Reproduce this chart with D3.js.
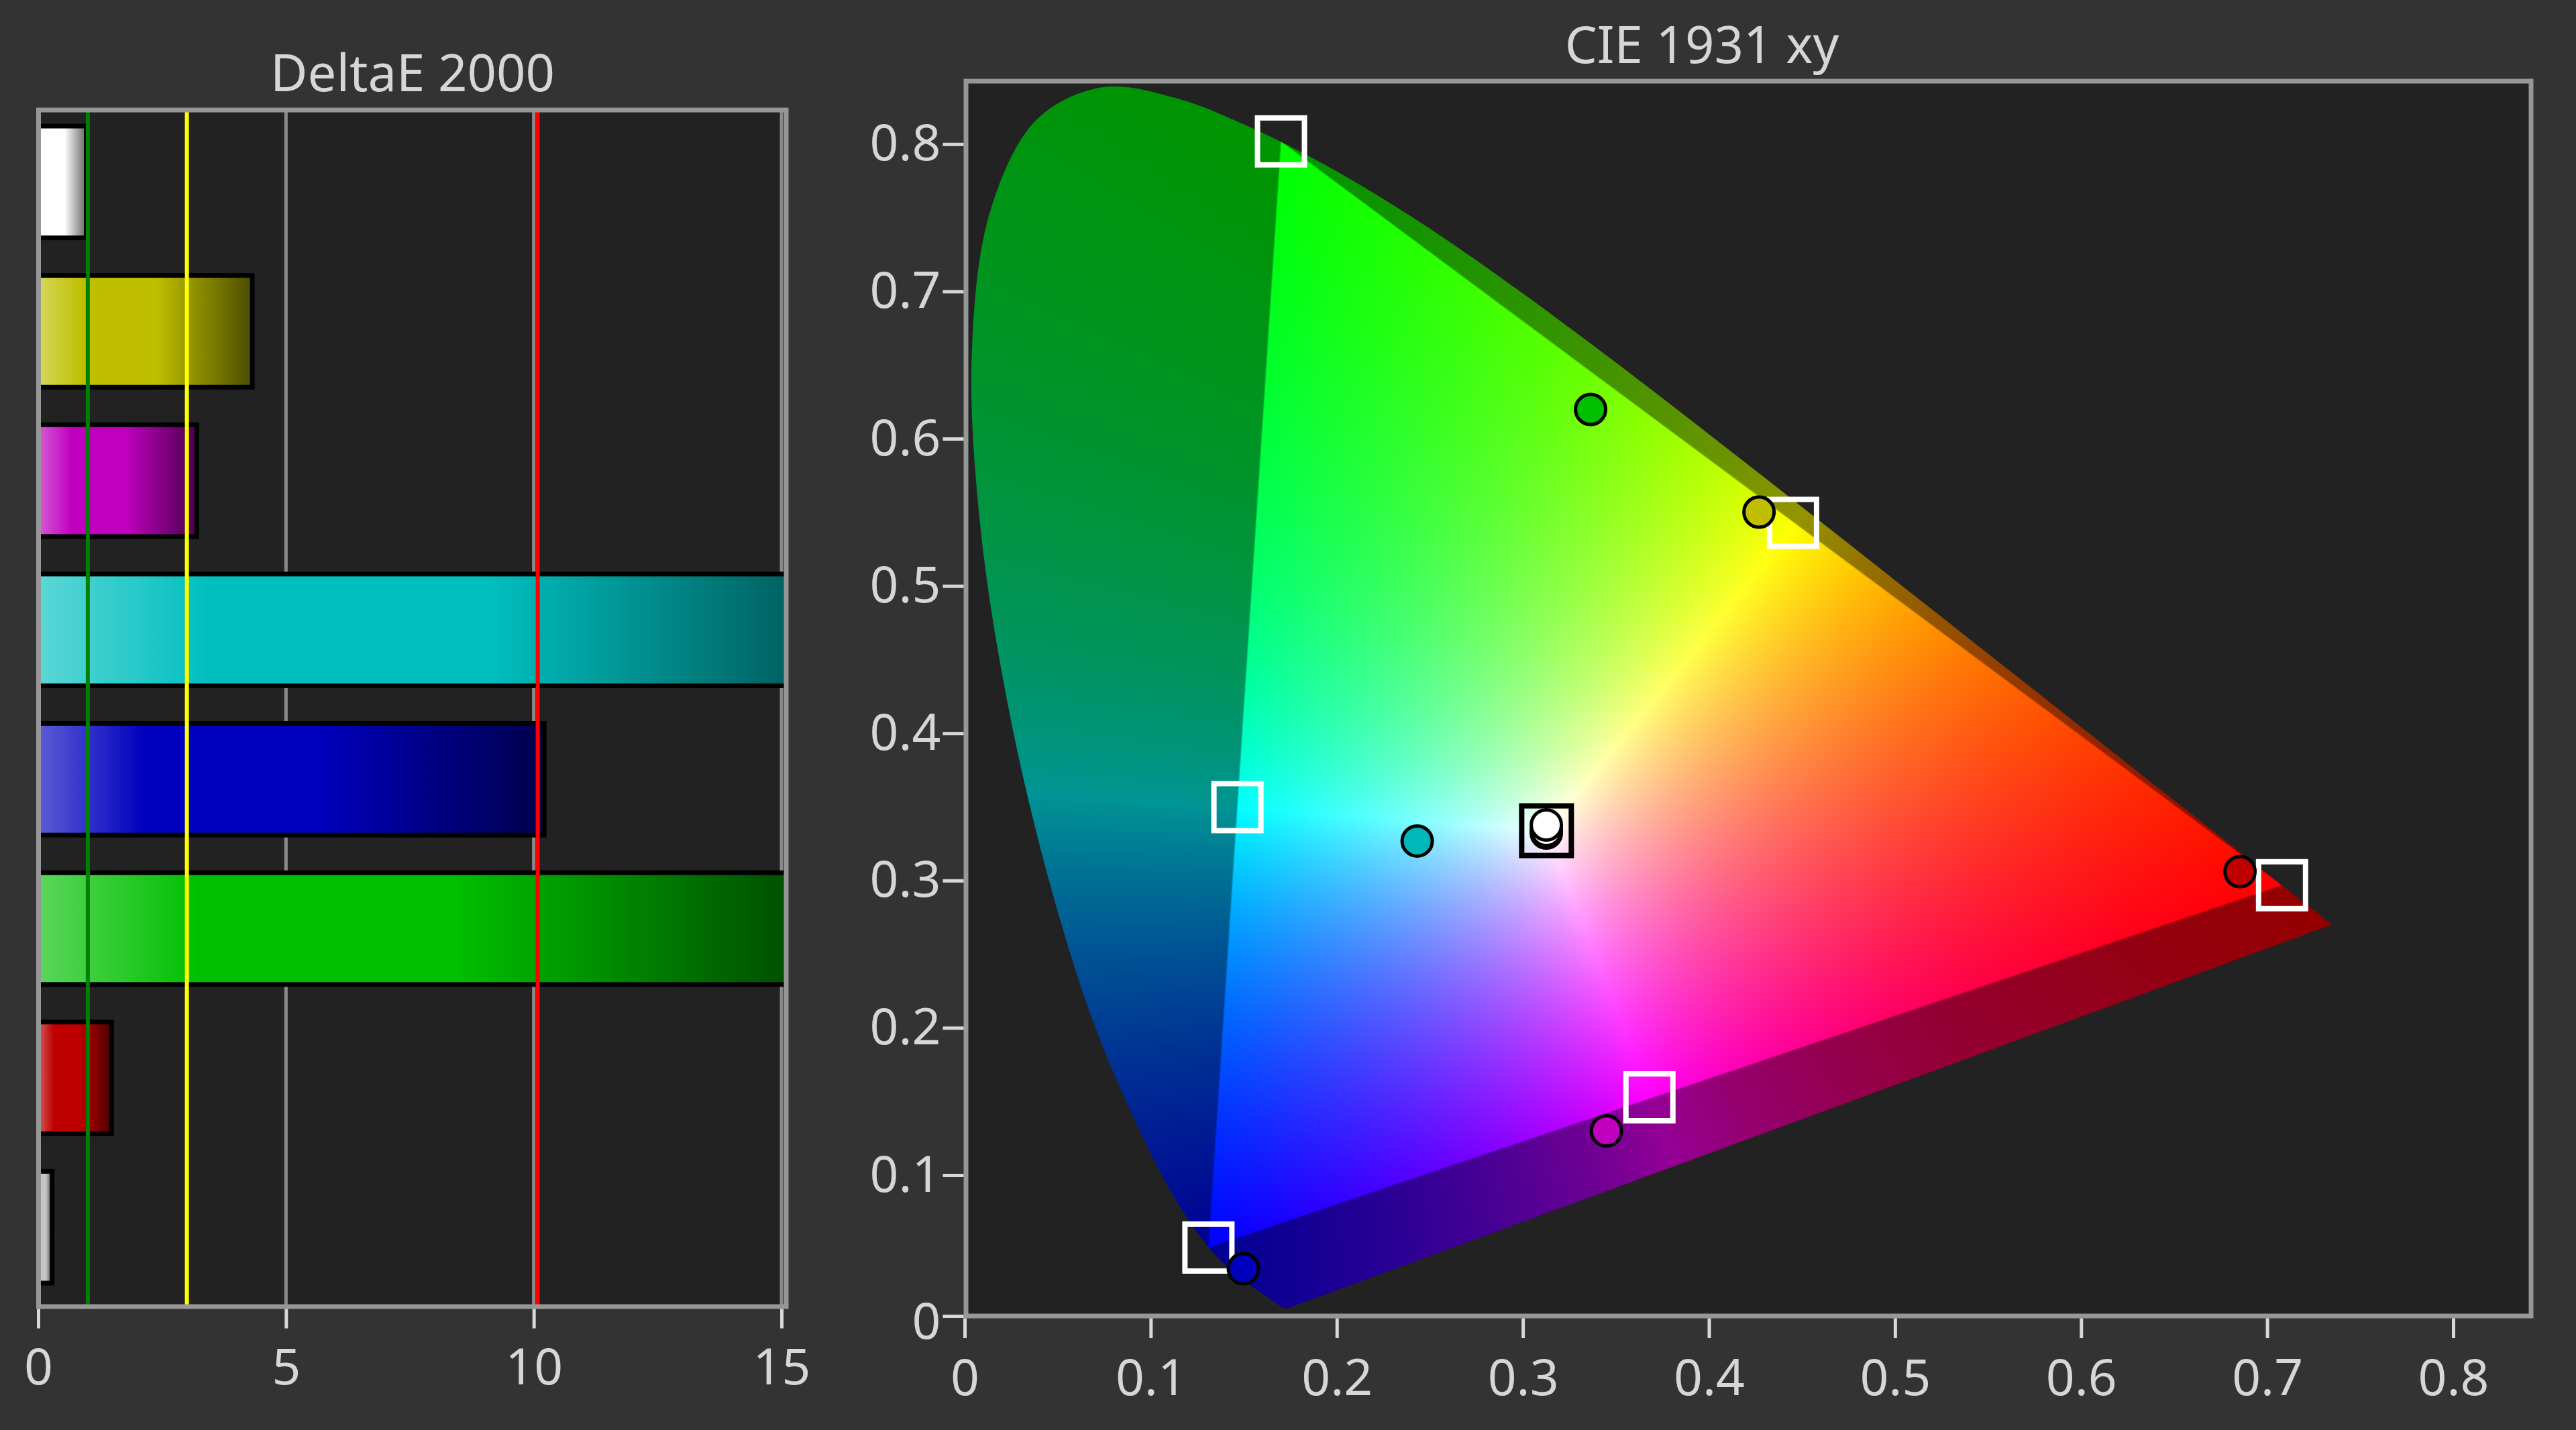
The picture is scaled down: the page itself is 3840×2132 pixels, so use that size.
<!DOCTYPE html>
<html><head><meta charset="utf-8">
<script src="https://cdn.jsdelivr.net/npm/d3@7"></script>
<style>
html,body{margin:0;padding:0;background:#333333;overflow:hidden;}
svg{display:block;}
</style></head><body>
<script>
// ---------------- DATA ----------------
// DeltaE 2000 bar chart
const deltaCategories = ["White", "Yellow", "Magenta", "Cyan", "Blue", "Green", "Red", "Gray"];
const deltaValues = [0.97, 4.32, 3.2, 16.5, 10.21, 15.3, 1.48, 0.28];
const deltaBaseColors = ["#ffffff", "#bfbf00", "#bf00bf", "#00bfbf", "#0000bf", "#00bf00", "#bf0000", "#c4c4c4"];
const deltaTicks = [0, 5, 10, 15];
const thresholdValues = [1, 3, 10.08];
const thresholdColors = ["#008000", "#ffff00", "#ff0000"];

// CIE 1931 xy: target (reference) points
const targetNames = ["Green", "Yellow", "Cyan", "Magenta", "Red", "Blue"];
const targetX = [0.170, 0.4452, 0.1466, 0.368, 0.708, 0.131];
const targetY = [0.797, 0.538, 0.345, 0.148, 0.292, 0.046];
const whiteTargetX = [0.3127];
const whiteTargetY = [0.3290];

// CIE 1931 xy: measured points
const measuredNames = ["Green", "Yellow", "Cyan", "Magenta", "Red", "Blue", "White 3", "White 2", "White 1"];
const measuredX = [0.3364, 0.4269, 0.2432, 0.3449, 0.6854, 0.1498, 0.3126, 0.3126, 0.3126];
const measuredY = [0.615, 0.5453, 0.322, 0.1252, 0.3012, 0.0316, 0.3274, 0.3292, 0.3329];
const measuredColors = ["#00bf00", "#bfbf00", "#00b8b8", "#bf00bf", "#bf0000", "#0000bf", "#ffffff", "#ffffff", "#ffffff"];

// Gamut triangle used for the bright region (Rec.2020 primaries R, G, B)
const gamutX = [0.708, 0.170, 0.131];
const gamutY = [0.292, 0.797, 0.046];

// CIE 1931 2° spectral locus, 380–700 nm, 5 nm steps
const locusX = [0.1741,0.1740,0.1738,0.1736,0.1733,0.1730,0.1726,0.1721,0.1714,0.1703,0.1689,0.1669,0.1644,0.1611,0.1566,0.1510,0.1440,0.1355,0.1241,0.1096,0.0913,0.0687,0.0454,0.0235,0.0082,0.0039,0.0139,0.0389,0.0743,0.1142,0.1547,0.1929,0.2296,0.2658,0.3016,0.3373,0.3731,0.4087,0.4441,0.4788,0.5125,0.5448,0.5752,0.6029,0.6270,0.6482,0.6658,0.6801,0.6915,0.7006,0.7079,0.7140,0.7190,0.7230,0.7260,0.7283,0.7300,0.7311,0.7320,0.7327,0.7334,0.7340,0.7344,0.7346,0.7347];
const locusY = [0.0050,0.0050,0.0049,0.0049,0.0048,0.0048,0.0048,0.0048,0.0051,0.0058,0.0069,0.0086,0.0109,0.0138,0.0177,0.0227,0.0297,0.0399,0.0578,0.0868,0.1327,0.2007,0.2950,0.4127,0.5384,0.6548,0.7502,0.8120,0.8338,0.8262,0.8059,0.7816,0.7543,0.7243,0.6923,0.6589,0.6245,0.5896,0.5547,0.5202,0.4866,0.4544,0.4242,0.3965,0.3725,0.3514,0.3340,0.3197,0.3083,0.2993,0.2920,0.2859,0.2809,0.2770,0.2740,0.2717,0.2700,0.2689,0.2680,0.2673,0.2666,0.2660,0.2656,0.2654,0.2653];

const cieTicks = [0, 0.1, 0.2, 0.3, 0.4, 0.5, 0.6, 0.7, 0.8];

// ---------------- SETUP ----------------
const W = 3840, H = 2132;
const FONT = "'Noto Sans', 'Open Sans', sans-serif";
const TEXT = "#d6d6d6";
const FRAME = "#979797";

const svg = d3.select("body").append("svg").attr("width", W).attr("height", H);
svg.append("rect").attr("width", W).attr("height", H).attr("fill", "#333333");
const defs = svg.append("defs");

// ---------------- DeltaE 2000 ----------------
const L = {left: 57.5, right: 1172, top: 164, bottom: 1948};
const xs = d3.scaleLinear().domain([0, 15]).range([57, 1165]);
const yb = d3.scaleBand().domain(deltaCategories).range([160, 1941]).paddingInner(0.22).paddingOuter(0.11);

svg.append("rect").attr("x", L.left).attr("y", L.top)
  .attr("width", L.right - L.left).attr("height", L.bottom - L.top).attr("fill", "#222222");

// grid lines
svg.append("g").selectAll("line").data(deltaTicks.filter(d => d > 0)).join("line")
  .attr("x1", d => xs(d)).attr("x2", d => xs(d)).attr("y1", L.top).attr("y2", L.bottom)
  .attr("stroke", "#8a8a8a").attr("stroke-width", 5);

// gradients
deltaBaseColors.forEach((c, i) => {
  const g = defs.append("linearGradient").attr("id", "bg" + i).attr("x1", 0).attr("x2", 1).attr("y1", 0).attr("y2", 0);
  const light = d3.interpolateRgb(c, "#ffffff")(0.36);
  const dark = d3.interpolateRgb(c, "#000000")(0.6);
  g.append("stop").attr("offset", 0).attr("stop-color", light);
  g.append("stop").attr("offset", 0.21).attr("stop-color", c);
  g.append("stop").attr("offset", 0.55).attr("stop-color", c);
  g.append("stop").attr("offset", 1).attr("stop-color", dark);
});
defs.append("clipPath").attr("id", "barClip").append("rect")
  .attr("x", L.left).attr("y", L.top).attr("width", L.right - L.left).attr("height", L.bottom - L.top);

svg.append("g").attr("clip-path", "url(#barClip)").selectAll("rect")
  .data(deltaCategories).join("rect")
  .attr("x", xs(0))
  .attr("y", d => yb(d) + 3.5)
  .attr("width", (d, i) => xs(deltaValues[i]) - xs(0))
  .attr("height", yb.bandwidth() - 7)
  .attr("fill", (d, i) => "url(#bg" + i + ")")
  .attr("stroke", "#000").attr("stroke-width", 7);

// threshold lines
svg.append("g").selectAll("line").data(thresholdValues).join("line")
  .attr("x1", d => xs(d)).attr("x2", d => xs(d)).attr("y1", L.top).attr("y2", L.bottom)
  .attr("stroke", (d, i) => thresholdColors[i]).attr("stroke-width", 6);

// frame
svg.append("rect").attr("x", L.left).attr("y", L.top)
  .attr("width", L.right - L.left).attr("height", L.bottom - L.top)
  .attr("fill", "none").attr("stroke", FRAME).attr("stroke-width", 7);

// axis
const ax1 = svg.append("g").attr("transform", `translate(0,${L.bottom + 3.5})`)
  .call(d3.axisBottom(xs).tickValues(deltaTicks).tickSize(29).tickPadding(30).tickFormat(d3.format("d")));
ax1.select(".domain").remove();
ax1.selectAll(".tick line").attr("stroke", "#d8d8d8").attr("stroke-width", 5);
ax1.selectAll(".tick text").attr("fill", TEXT).attr("font-size", 75).attr("font-family", FONT);

svg.append("text").attr("x", 615).attr("y", 136).attr("text-anchor", "middle")
  .attr("fill", TEXT).attr("font-size", 76).attr("font-family", FONT).text("DeltaE 2000");

// ---------------- CIE 1931 xy ----------------
const C = {left: 1440, right: 3773, top: 121, bottom: 1962};
const xc = d3.scaleLinear().domain([0, 0.8]).range([1438, 3657]);
const yc = d3.scaleLinear().domain([0, 0.8]).range([1961, 204.2]);

svg.append("rect").attr("x", C.left).attr("y", C.top)
  .attr("width", C.right - C.left).attr("height", C.bottom - C.top).attr("fill", "#222222");

// chromaticity fill rendered in a canvas through the scales
(function () {
  const cw = Math.round(C.right - C.left), ch = Math.round(C.bottom - C.top);
  const canvas = document.createElement("canvas");
  canvas.width = cw; canvas.height = ch;
  const ctx = canvas.getContext("2d");
  const img = ctx.createImageData(cw, ch);
  const data = img.data;
  const P = gamutX.map((gx, i) => [xc(gx) - C.left, yc(gamutY[i]) - C.top]);
  const cx = (P[0][0] + P[1][0] + P[2][0]) / 3, cy = (P[0][1] + P[1][1] + P[2][1]) / 3;
  const edges = [];
  for (let i = 0; i < 3; i++) {
    const a = P[i], b = P[(i + 1) % 3];
    let nx = -(b[1] - a[1]), ny = b[0] - a[0];
    const len = Math.hypot(nx, ny); nx /= len; ny /= len;
    let c0 = -(nx * a[0] + ny * a[1]);
    if (nx * cx + ny * cy + c0 < 0) { nx = -nx; ny = -ny; c0 = -c0; }
    edges.push([nx, ny, c0]);
  }
  for (let j = 0; j < ch; j++) {
    const py = j + 0.5;
    const yv = yc.invert(py + C.top);
    if (yv <= 0.0005) continue;
    for (let i = 0; i < cw; i++) {
      const px = i + 0.5;
      const xv = xc.invert(px + C.left);
      const X = xv / yv, Z = (1 - xv - yv) / yv;
      let r = 1.7166512 * X - 0.3556708 - 0.2533663 * Z;
      let g = -0.6666844 * X + 1.6164812 + 0.0157685 * Z;
      let b = 0.0176399 * X - 0.0427706 + 0.9421031 * Z;
      if (r < 0) r = 0; if (g < 0) g = 0; if (b < 0) b = 0;
      const m = Math.max(r, g, b) || 1;
      let d = Infinity;
      for (let k = 0; k < 3; k++) {
        const e = edges[k];
        const dd = e[0] * px + e[1] * py + e[2];
        if (dd < d) d = dd;
      }
      let t = d / 2.5 + 0.5; t = t < 0 ? 0 : (t > 1 ? 1 : t);
      const f = (0.58 + 0.42 * t) * 255 / m;
      const o = (j * cw + i) * 4;
      data[o] = r * f; data[o + 1] = g * f; data[o + 2] = b * f; data[o + 3] = 255;
    }
  }
  ctx.putImageData(img, 0, 0);
  ctx.globalCompositeOperation = "destination-in";
  const pts = locusX.map((lx, i) => [lx, locusY[i]]);
  const line = d3.line().x(d => xc(d[0]) - C.left).y(d => yc(d[1]) - C.top)
    .curve(d3.curveCatmullRom.alpha(0.5)).context(ctx);
  ctx.beginPath(); line(pts); ctx.closePath(); ctx.fillStyle = "#000"; ctx.fill();
  svg.append("image").attr("x", C.left).attr("y", C.top).attr("width", cw).attr("height", ch)
    .attr("href", canvas.toDataURL());
})();

// frame
svg.append("rect").attr("x", C.left).attr("y", C.top)
  .attr("width", C.right - C.left).attr("height", C.bottom - C.top)
  .attr("fill", "none").attr("stroke", FRAME).attr("stroke-width", 7);

// target squares
const SQ = 70;
svg.append("g").selectAll("rect").data(targetNames).join("rect")
  .attr("x", (d, i) => xc(targetX[i]) - SQ / 2).attr("y", (d, i) => yc(targetY[i]) - SQ / 2)
  .attr("width", SQ).attr("height", SQ)
  .attr("fill", "none").attr("stroke", "#ffffff").attr("stroke-width", 8);
svg.append("g").selectAll("rect").data(whiteTargetX).join("rect")
  .attr("x", (d, i) => xc(d) - 37).attr("y", (d, i) => yc(whiteTargetY[i]) - 37)
  .attr("width", 74).attr("height", 74)
  .attr("fill", "none").attr("stroke", "#000000").attr("stroke-width", 8);

// measured circles
svg.append("g").selectAll("circle").data(measuredNames).join("circle")
  .attr("cx", (d, i) => xc(measuredX[i])).attr("cy", (d, i) => yc(measuredY[i]))
  .attr("r", 22.5)
  .attr("fill", (d, i) => measuredColors[i]).attr("stroke", "#000").attr("stroke-width", 5);

// axes
const ax2 = svg.append("g").attr("transform", `translate(0,${C.bottom + 3.5})`)
  .call(d3.axisBottom(xc).tickValues(cieTicks).tickSize(29.5).tickPadding(32).tickFormat(d3.format("")));
ax2.select(".domain").remove();
ax2.selectAll(".tick line").attr("stroke", "#d8d8d8").attr("stroke-width", 5);
ax2.selectAll(".tick text").attr("fill", TEXT).attr("font-size", 75).attr("font-family", FONT);

const yTickScale = d3.scaleLinear().domain([0, 0.8]).range([yc(0) + 10.6, yc(0.8) + 10.6]);
const ax3 = svg.append("g").attr("transform", `translate(${C.left - 3.5},0)`)
  .call(d3.axisLeft(yTickScale).tickValues(cieTicks).tickSize(31).tickPadding(3).tickFormat(d3.format("")));
ax3.select(".domain").remove();
ax3.selectAll(".tick line").attr("stroke", "#d8d8d8").attr("stroke-width", 5)
  .attr("transform", d => `translate(0,${Math.min(0, C.bottom - yTickScale(d))})`);
ax3.selectAll(".tick text").attr("fill", TEXT).attr("font-size", 75).attr("font-family", FONT);

svg.append("text").attr("x", 2537).attr("y", 94).attr("text-anchor", "middle")
  .attr("fill", TEXT).attr("font-size", 76).attr("font-family", FONT).text("CIE 1931 xy");
</script>
</body></html>
